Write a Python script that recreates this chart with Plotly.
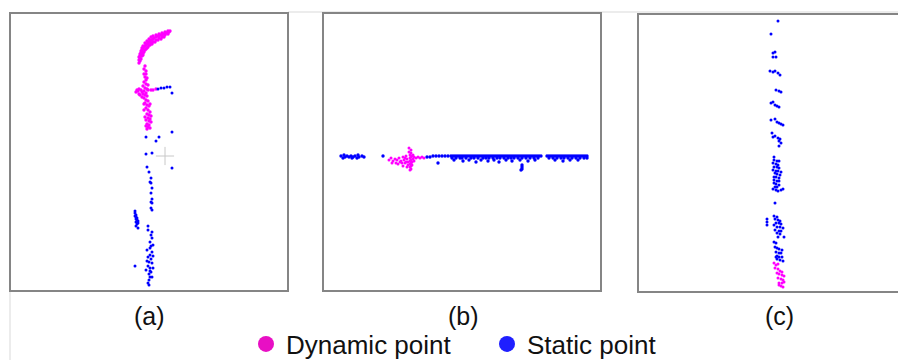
import plotly.graph_objects as go

# ---------------- data (local panel frame: x right, y down) ----------------
# Panel (a)
a_dyn_x = [129,129,129,130,131,132,133,135,137,139,141,143,146,149,152,155,158,160,
           130,130,131,132,133,135,137,139,141,143,146,149,152,155,158,
           130,131,132,134,136,138,140,142,144,147,150,153,156,159,
           131,132,133,135,137,139,141,143,146,149,152,155,158,
           133,134,136,138,140,142,145,148,151,154,
           135,134,136,134,135,136,134,136,133,135,137,131,128,126,129,132,134,138,141,143,146,
           133,135,137,134,136,138,135,137,139,136,138,140,137,139,141,138,140,136,139,141,137,
           139,138,140,137,136,135,134,134,132,130,129,127,136,140,138,137,136]
a_dyn_y = [50,47,44,41,38,35,33,30,28,26,24,23,22,21,20,19,18,18,
           48,45,42,39,36,33,31,29,27,26,24,23,22,21,19,
           43,40,37,34,32,30,28,27,25,23,22,21,20,19,
           46,43,40,37,35,32,30,29,27,25,24,22,21,
           42,39,36,34,32,31,29,27,26,24,
           53,56,58,61,64,67,69,71,73,75,76,77,78,79,76,79,78,77,77,77,76,
           81,82,83,85,87,88,90,92,93,95,97,99,101,102,103,105,106,107,108,109,111,
           112,114,115,116,113,104,97,91,84,82,81,77,80,91,72,65,61]
a_sta_x = [148,151,154,157,160,162,162,136,146,149,136,142,162,137,139,141,140,141,142,141,
           142,141,142,141,142,
           125,125,126,125,126,127,126,127,128,126,128,127,126,128,
           138,138,142,141,142,140,141,140,142,140,138,141,139,142,138,140,141,139,140,139,139,
           125,143,137,143,137,143,140,136,142,138]
a_sta_y = [76,75,75,74,74,80,119,124,128,124,141,140,155,154,159,165,169,170,175,180,
           186,189,190,195,197,
           198,200,202,203,204,205,206,207,208,209,210,211,213,215,
           213,217,219,222,225,229,233,235,239,242,244,246,249,250,253,255,259,261,264,267,272,
           253,232,237,243,248,255,258,257,264,270]
a_sensor_x = [155]
a_sensor_y = [143]

# Panel (b)
b_dyn_x = [66,68,70,72,74,76,78,80,81,82,83,84,85,86,86,87,87,87,87,87,87,88,88,88,88,88,
           88,88,89,89,89,90,85,84,83,82,79,77,80,91,93,95,97,99,101,90,91,69,73,75]
b_dyn_y = [147,145,148,146,147,145,148,144,147,150,143,146,149,139,135,142,145,148,151,154,
           157,137,140,144,147,150,153,156,143,149,152,146,152,154,149,145,150,149,153,144,
           145,144,145,144,145,142,148,150,150,151]
b_sta_x = [18,20,22,24,26,28,30,32,34,36,39,41,21,29,35,60,
           104,107,110,113,116,119,122,125,115,
           128,130,132,134,136,138,140,142,144,146,148,150,152,154,156,158,160,162,164,166,
           168,170,172,174,176,178,180,182,184,186,188,190,192,194,196,198,200,202,204,206,
           208,210,212,214,216,218,
           129,133,137,139,143,148,151,155,160,163,166,170,174,177,181,185,188,191,195,199,
           203,207,211,215,
           131,140,146,153,158,165,171,176,183,189,197,205,212,
           199,199,199,198,
           224,226,228,230,232,234,236,238,240,242,244,246,248,250,252,254,256,258,260,262,
           264,
           226,230,234,238,241,245,249,253,257,261,264,
           232,240,247,255]
b_sta_y = [143,145,144,143,144,143,144,143,145,144,143,144,142,145,142,143,
           144,144,143,143,143,143,143,143,150,
           143,143,143,143,143,143,143,143,143,143,143,143,143,143,143,143,143,143,143,143,
           143,143,143,143,143,143,143,143,143,143,143,143,143,143,143,143,143,143,143,143,
           143,143,143,143,143,143,
           145,145,145,145,145,145,145,145,145,145,145,145,145,145,145,145,145,145,145,145,
           145,145,145,145,
           147,148,147,149,147,148,147,149,147,148,147,148,147,
           152,154,156,157,
           143,143,143,143,143,143,143,143,143,143,143,143,143,143,143,143,143,143,143,143,
           143,
           145,145,145,145,145,145,145,145,145,145,145,
           147,148,147,147]

# Panel (c)
c_dyn_x = [136,138,140,137,140,142,144,139,141,144,146,140,143,145,141,144,146,143,145,141]
c_dyn_y = [249,251,250,254,255,257,258,259,260,261,262,264,265,266,269,269,268,272,273,271]
c_sta_x = [140,133,135,137,135,138,
           132,135,137,140,142,
           138,141,143,
           133,135,137,139,141,
           133,137,139,141,143,145,
           134,135,137,140,142,141,143,141,
           136,136,139,141,135,138,140,136,139,141,135,138,140,143,137,139,142,136,138,141,
           136,139,141,136,138,141,137,139,135,138,140,143,145,
           137,
           129,129,129,136,139,137,140,142,138,141,143,136,139,142,145,137,141,143,139,142,
           146,140,
           136,138,137,139,141,144,138,141,143,139,141,144,139,142,145,138]
c_sta_y = [7,20,39,38,43,43,
           57,58,57,59,61,
           76,77,78,
           89,88,91,92,93,
           106,105,108,109,110,111,
           119,123,122,124,125,127,129,132,
           143,146,147,147,149,150,151,153,153,154,156,157,157,158,159,160,161,163,163,164,
           166,167,167,169,170,171,173,173,175,176,177,176,175,
           189,
           205,208,211,202,203,205,206,207,209,209,210,211,213,213,214,216,217,217,219,220,
           223,223,
           228,229,233,234,235,236,238,239,239,242,243,243,245,246,247,243]

panel_labels = ["(a)", "(b)", "(c)"]
series_names = ["Dynamic point", "Static point"]

# ---------------- styling ----------------
DYN = "#ff00ff"
STA = "#0000ff"
LEG_DYN = "#e80fc4"
LEG_STA = "#1f1fff"
PAGE_W, PAGE_H = 906, 360
OFF = 8                      # default page body margin
W, H = PAGE_W - OFF, PAGE_H - OFF
FONT = "Liberation Sans, Arial, sans-serif"

fig = go.Figure()

def pts(x, y, color, ax, size=3):
    fig.add_trace(go.Scatter(
        x=x, y=y, mode="markers", xaxis="x" + ax, yaxis="y" + ax,
        marker=dict(size=size, color=color, line=dict(width=0)),
        showlegend=False, hoverinfo="skip"))

pts(a_dyn_x, a_dyn_y, DYN, "", 3.4)
pts(a_sta_x, a_sta_y, STA, "")
fig.add_trace(go.Scatter(x=a_sensor_x, y=a_sensor_y, mode="markers",
                         marker=dict(symbol="cross-thin", size=13,
                                     line=dict(width=1, color="#c8c8c8")),
                         showlegend=False, hoverinfo="skip"))
pts(b_dyn_x, b_dyn_y, DYN, "2")
pts(b_sta_x, b_sta_y, STA, "2", 3.4)
pts(c_sta_x, c_sta_y, STA, "3")
pts(c_dyn_x, c_dyn_y, DYN, "3")

# legend-only entries
for name, col in zip(series_names, [LEG_DYN, LEG_STA]):
    fig.add_trace(go.Scatter(x=[None], y=[None], mode="markers", name=name,
                             marker=dict(size=16, color=col)))

# panel geometry (page pixels)
panels = [(10, 13, 288, 291), (323, 13, 601, 291), (638, 14, 916, 292)]

def xd(px):
    return (px - OFF) / W

def yd(py):
    return 1 - (py - OFF) / H

axis_common = dict(visible=False, showgrid=False, zeroline=False, fixedrange=True)
layout_axes = {}
for i, (x0, y0, x1, y1) in enumerate(panels):
    sfx = "" if i == 0 else str(i + 1)
    right = min(x1, PAGE_W)
    layout_axes["xaxis" + sfx] = dict(domain=[xd(x0), min(1.0, xd(right))],
                                      range=[0, right - x0], anchor="y" + sfx, **axis_common)
    layout_axes["yaxis" + sfx] = dict(domain=[yd(y1), yd(y0)],
                                      range=[y1 - y0, 0], anchor="x" + sfx, **axis_common)

shapes = []
shapes.append(dict(type="line", xref="paper", yref="paper", x0=xd(288), x1=1.0,
                   y0=yd(12), y1=yd(12), line=dict(color="#d9d9d9", width=1)))
shapes.append(dict(type="line", xref="paper", yref="paper", x0=xd(10), x1=xd(10),
                   y0=yd(291), y1=0, line=dict(color="#d9d9d9", width=1)))
for (x0, y0, x1, y1) in panels:
    shapes.append(dict(type="rect", xref="paper", yref="paper",
                       x0=xd(x0), x1=xd(x1), y0=yd(y1), y1=yd(y0),
                       line=dict(color="#858585", width=2), fillcolor="rgba(0,0,0,0)"))

label_cx = [149, 463, 779]
annotations = []
for cx, lab in zip(label_cx, panel_labels):
    annotations.append(dict(text=lab, xref="paper", yref="paper", x=xd(cx), y=yd(316),
                            xanchor="center", yanchor="middle", showarrow=False,
                            font=dict(size=25, color="#111111", family=FONT)))

fig.update_layout(
    width=W, height=H,
    margin=dict(l=0, r=0, t=0, b=0, pad=0, autoexpand=False),
    paper_bgcolor="white", plot_bgcolor="white",
    shapes=shapes, annotations=annotations,
    showlegend=True,
    legend=dict(orientation="h", x=xd(246), xanchor="left", y=yd(344), yanchor="middle",
                font=dict(size=26, color="#111111", family=FONT),
                bgcolor="rgba(0,0,0,0)", itemwidth=30, entrywidth=196,
                entrywidthmode="pixels", tracegroupgap=0),
    **layout_axes,
)

fig.write_html("out.html")
